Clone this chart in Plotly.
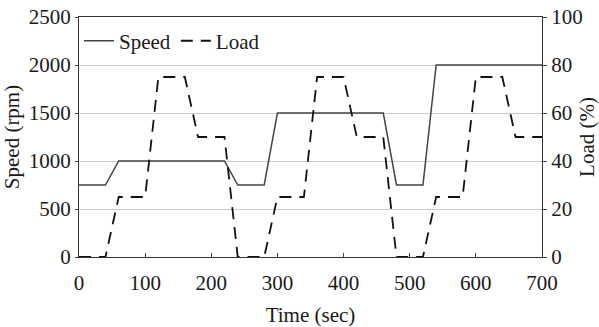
import plotly.graph_objects as go

time_speed = [0, 40, 60, 220, 240, 280, 300, 460, 480, 520, 540, 700]
speed_rpm = [750, 750, 1000, 1000, 750, 750, 1500, 1500, 750, 750, 2000, 2000]

time_load = [0, 40, 60, 100, 120, 160, 180, 220, 240, 280, 300, 340, 360, 400,
             420, 460, 480, 520, 540, 580, 600, 640, 660, 700]
load_pct = [0, 0, 25, 25, 75, 75, 50, 50, 0, 0, 25, 25, 75, 75,
            50, 50, 0, 0, 25, 25, 75, 75, 50, 50]

x_ticks = [0, 100, 200, 300, 400, 500, 600, 700]
speed_ticks = [0, 500, 1000, 1500, 2000, 2500]
load_ticks = [0, 20, 40, 60, 80, 100]

font = dict(family="Liberation Serif, Times New Roman, serif", size=21, color="#1a1a1a")

fig = go.Figure()
fig.add_trace(go.Scatter(x=time_speed, y=speed_rpm, mode="lines", name="Speed",
                         line=dict(color="#444444", width=1.5)))
fig.add_trace(go.Scatter(x=time_load, y=load_pct, mode="lines", name="Load", yaxis="y2",
                         line=dict(color="#111", width=1.8, dash="12px,8px")))

fig.update_layout(
    width=599, height=327,
    margin=dict(l=79, r=57, t=17, b=70, autoexpand=False),
    paper_bgcolor="white", plot_bgcolor="white",
    font=font,
    showlegend=True,
    legend=dict(orientation="h", x=0.0, y=0.985, xanchor="left", yanchor="top",
                bgcolor="rgba(0,0,0,0)", font=font, tracegroupgap=0),
    xaxis=dict(range=[0, 700], tickvals=x_ticks, ticks="inside", ticklen=4,
               tickcolor="#444", showgrid=False, zeroline=False, automargin=False,
               showline=True, linecolor="#333", linewidth=1, mirror=True,
               ticklabelstandoff=7,
               title=dict(text="Time (sec)", font=font, standoff=14)),
    yaxis=dict(range=[0, 2500], tickvals=speed_ticks, ticks="outside", ticklen=3,
               tickcolor="#444", showgrid=True, gridcolor="#cccccc", gridwidth=1,
               zeroline=False, showline=True, linecolor="#333", linewidth=1,
               automargin=False,
               title=dict(text="Speed (rpm)", font=font, standoff=4)),
    yaxis2=dict(range=[0, 100], tickvals=load_ticks, ticks="outside", ticklen=4,
                tickcolor="#444", overlaying="y", side="right", showgrid=False,
                zeroline=False, showline=True, linecolor="#333", linewidth=1,
                automargin=False,
                title=dict(text="Load (%)", font=font, standoff=4)),
)

fig.write_html("out.html")
